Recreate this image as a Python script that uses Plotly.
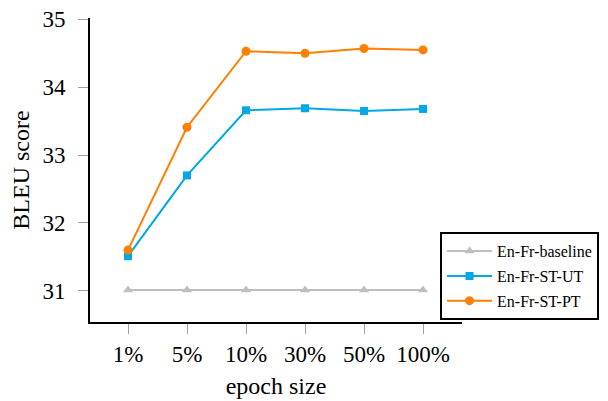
import plotly.graph_objects as go

categories = ["1%", "5%", "10%", "30%", "50%", "100%"]
baseline = [31.01, 31.01, 31.01, 31.01, 31.01, 31.01]
st_ut = [31.51, 32.70, 33.66, 33.69, 33.65, 33.68]
st_pt = [31.60, 33.41, 34.53, 34.50, 34.57, 34.55]
y_ticks = [31, 32, 33, 34, 35]

x_idx = list(range(len(categories)))

fig = go.Figure()
fig.add_trace(go.Scatter(x=x_idx, y=baseline, name="En-Fr-baseline", mode="lines+markers",
                         legendgroup="a",
                         line=dict(color="#bfbfbf", width=2),
                         marker=dict(symbol="triangle-up", size=9, color="#bfbfbf")))
fig.add_trace(go.Scatter(x=x_idx, y=st_ut, name="En-Fr-ST-UT", mode="lines+markers",
                         legendgroup="b",
                         line=dict(color="#00a8e8", width=2),
                         marker=dict(symbol="square", size=8, color="#00a8e8")))
fig.add_trace(go.Scatter(x=x_idx, y=st_pt, name="En-Fr-ST-PT", mode="lines+markers",
                         legendgroup="c",
                         line=dict(color="#ff7f00", width=2),
                         marker=dict(symbol="circle", size=9, color="#ff7f00")))

serif = "'Liberation Serif', 'Times New Roman', serif"
fig.update_layout(
    width=600, height=393,
    margin=dict(l=82, r=146, t=10, b=79, autoexpand=False),
    paper_bgcolor="white", plot_bgcolor="white",
    font=dict(family=serif, size=20, color="black"),
    showlegend=True,
    legend=dict(x=0.941, y=0.006, xanchor="left", yanchor="bottom",
                bordercolor="black", borderwidth=2, bgcolor="white",
                font=dict(family=serif, size=16, color="black"),
                tracegroupgap=1, itemwidth=45),
)
fig.update_xaxes(
    tickmode="array", tickvals=x_idx, ticktext=categories,
    range=[-0.644, 5.66], showgrid=False, zeroline=False,
    showline=True, linecolor="black", linewidth=2,
    ticks="outside", ticklen=10, tickcolor="#a0a0a0", tickwidth=1,
    tickfont=dict(family=serif, size=23), ticklabeloverflow="allow",
    title=dict(text="epoch size", font=dict(family=serif, size=24), standoff=12),
)
fig.update_yaxes(
    tickmode="array", tickvals=y_ticks,
    range=[30.54, 35.02], showgrid=False, zeroline=False,
    showline=True, linecolor="black", linewidth=2,
    ticks="outside", ticklen=10, tickcolor="#a0a0a0", tickwidth=1,
    tickfont=dict(family=serif, size=23), ticklabelstandoff=8, ticklabeloverflow="allow",
    title=dict(text="BLEU score", font=dict(family=serif, size=24), standoff=12),
)

fig.write_html("out.html")
